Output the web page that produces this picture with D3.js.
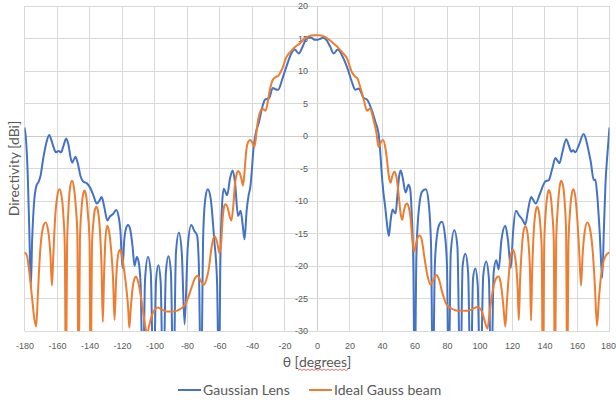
<!DOCTYPE html>
<html>
<head>
<meta charset="utf-8">
<script src="https://cdn.jsdelivr.net/npm/d3@7"></script>
<style>
  body { margin: 0; background: #fff; }
  svg { display: block; font-family: Lato, "Open Sans", sans-serif; }
  .tick text { fill: #595959; }
</style>
</head>
<body>
<div id="chart-area"></div>
<script>
// axis ticks
const xTicks = [-180, -160, -140, -120, -100, -80, -60, -40, -20, 0, 20, 40, 60, 80, 100, 120, 140, 160, 180];
const yTicks = [-30, -25, -20, -15, -10, -5, 0, 5, 10, 15, 20];

const seriesNames = ["Gaussian Lens", "Ideal Gauss beam"];
const seriesColors = ["#4472C4", "#ED7D31"];

// [theta (deg), directivity (dBi)]
const gaussianLens = [
  [-180, 1.3], [-179, -0.8], [-178, -6], [-177, -15], [-176.1, -23.2], [-175.3, -16], [-174.2, -10.5],
  [-172.6, -7.6], [-171.4, -7.1], [-170.2, -6.2], [-168.5, -3.5], [-166.5, -1], [-164.8, 0.15],
  [-163.5, -0.6], [-162, -1.8], [-160.7, -2.5], [-159, -2.3], [-157.5, -2.5], [-156, -1.5],
  [-154.3, -0.4], [-153, -1.3], [-151.5, -3.5], [-150.6, -4.1], [-148.7, -3.2], [-147.2, -4.2],
  [-145.5, -6.2], [-143.9, -7], [-141.5, -7.3], [-139.5, -8], [-137.5, -9.2], [-135.5, -10.4],
  [-133.8, -9.9], [-132.5, -9.4], [-131, -10.8], [-129, -13], [-127.5, -12.4], [-125.5, -12],
  [-123.6, -11.4], [-122, -12.5], [-121, -14.5], [-119.7, -20.3], [-118.6, -16], [-117.5, -14.2],
  [-116.3, -13.7], [-115, -14.3], [-113.5, -17], [-112.3, -20], [-110.9, -18.6], [-109.8, -19.3],
  [-108.5, -23], [-107.2, -40], [-105.8, -22], [-104, -18.6], [-102.3, -21], [-100.6, -40],
  [-99, -22], [-97.6, -19.9], [-96.2, -22.5], [-94.7, -40], [-93, -21], [-91.4, -18.5],
  [-89.9, -21], [-88.4, -40], [-86.8, -18], [-85, -14.9], [-83.2, -18], [-81.5, -29],
  [-79.5, -17], [-77.4, -13.7], [-75.5, -14.6], [-73.8, -15.3], [-72.7, -20], [-71.4, -40],
  [-70, -15], [-68.6, -9.4], [-67.2, -8.2], [-65.5, -9.5], [-63.3, -15.8], [-61.5, -22.5],
  [-60.3, -40], [-59.5, -20], [-58.5, -11], [-57.4, -8.1], [-55.3, -9.1], [-53.5, -6.5],
  [-51.9, -5.3], [-50.5, -7], [-48.6, -12.3], [-47, -11.5], [-45.8, -13.5], [-44.6, -15.9],
  [-43.3, -11.5], [-42, -9], [-41, -7.8], [-40, -5], [-39.2, -2.2], [-37.8, 0.3], [-35.7, 2.15],
  [-33.6, 4.5], [-32, 5.6], [-29.5, 5.8], [-27.2, 7.4], [-25.6, 7.2], [-24, 7.1], [-21.3, 8.8],
  [-18.9, 10.6], [-15.8, 12.7], [-13.7, 13.3], [-11.2, 12.7], [-8.6, 13.9], [-6, 15.1],
  [-3.5, 15.1], [-1.5, 14.8], [0, 14.8], [1.5, 14.9], [3.5, 15.1], [6, 14.7], [8, 13.8],
  [10.3, 12.7], [12.7, 13.3], [15.4, 12.4], [18.5, 10.6], [21.5, 8.3], [23.6, 7.1], [25.6, 7.3],
  [27, 6.8], [28.5, 5.9], [30.8, 5.6], [33.8, 3.9], [35.9, 2.2], [37.9, 0.36], [38.8, -2],
  [39.6, -5], [40.7, -8.3], [42, -11], [43.3, -14], [44.2, -15.4], [45.3, -13], [46.5, -11.3],
  [47.5, -11.7], [48.4, -11.9], [49.5, -9], [50.5, -6.3], [51.5, -5.3], [52.8, -6.5],
  [54.5, -8.7], [56.3, -7.5], [57.3, -8.1], [58.3, -12], [59.3, -20], [60.1, -40], [61.2, -18],
  [62.8, -11], [64.8, -8.5], [67, -8.2], [68.8, -10.5], [70.2, -17], [71.3, -40], [72.5, -20],
  [73.9, -15.2], [75.5, -13.5], [76.9, -13.2], [78.6, -15], [80, -20], [81, -40], [82.3, -18],
  [84.5, -14.5], [86.4, -17], [88.2, -40], [89.6, -20], [91.3, -18.1], [93, -21], [94.6, -40],
  [96, -22], [97.4, -20.4], [98.9, -23], [100.5, -40], [102.3, -21.5], [104.1, -19.3],
  [105.8, -22], [107.2, -40], [108.7, -21], [110.3, -19.1], [111.8, -20.5], [113.5, -16],
  [115.9, -13.8], [117.5, -16], [119.3, -20.3], [120.6, -15], [122.5, -11.5], [124.3, -12.2],
  [126.3, -12.8], [128.2, -13.6], [129.8, -11.5], [131.8, -9.4], [133, -9.8], [134.6, -10.4],
  [137, -9], [140.5, -7], [142.6, -6.8], [144.8, -5], [146.7, -3.4], [148, -3.8], [149.2, -4.2],
  [151, -2.5], [153.4, -0.5], [155, -1.5], [156.5, -2.4], [157.6, -2.2], [159, -2.5], [161, -1.5],
  [164.1, 0.3], [165.8, -0.8], [167.3, -2.5], [168.5, -4], [170.3, -6.8], [171.3, -6.7],
  [172.5, -9.3], [174, -15], [175.5, -21.8], [176.6, -14], [177.5, -7.5], [178.8, -2.5], [180, 1.3]
];

const idealGaussBeam = [
  [-180, -17.9], [-178.5, -18.4], [-177, -21], [-175.5, -24.5], [-174, -28], [-172.8, -29.3],
  [-171.7, -24], [-170.3, -17.5], [-168.8, -14.3], [-167, -13.3], [-165.3, -14.8], [-164, -18.5],
  [-163.1, -23], [-162.2, -18], [-161, -12], [-159.8, -9.2], [-158.5, -8.2], [-157.2, -9.2],
  [-156, -12.5], [-155.2, -17], [-154.5, -40], [-153.8, -17], [-153, -11.5], [-152, -8],
  [-150.8, -6.9], [-149.6, -7.9], [-148.4, -11], [-147.5, -15], [-146.7, -40], [-145.9, -16],
  [-145, -11.5], [-144.1, -9.2], [-143.1, -8.4], [-142, -9.3], [-140.9, -12.3], [-140, -16],
  [-139.3, -40], [-138.5, -17], [-137.5, -13], [-136.7, -11.4], [-135.7, -10.9], [-134.6, -11.8],
  [-133.6, -14.5], [-132.6, -20], [-131.8, -28.6], [-131, -21], [-130.1, -15.5], [-129.1, -13.8],
  [-128, -14.6], [-126.7, -17.5], [-125.5, -22], [-124.6, -28.3], [-123.6, -22], [-122.4, -18.3],
  [-121.3, -17.5], [-120.2, -18.2], [-118.8, -20.5], [-117.3, -23.5], [-116.2, -26.5],
  [-115.5, -29.5], [-114.6, -26.5], [-113.5, -23.5], [-112.3, -21.9], [-111.4, -21.6],
  [-110, -22.5], [-108.5, -24.5], [-107, -27], [-105.5, -29.5], [-104.5, -30.5], [-103.3, -29.2],
  [-101.5, -27.5], [-99.5, -26.6], [-97.8, -26.4], [-95.5, -26.7], [-92.5, -27], [-89.6, -27],
  [-86.5, -26.9], [-84, -26.6], [-82, -26.2], [-79.5, -25], [-77.3, -23.4], [-75.3, -22],
  [-73.5, -21.5], [-71.5, -22.3], [-69.7, -22.9], [-68, -22], [-66.7, -20.6], [-64.8, -17],
  [-63.1, -15.4], [-61.5, -16.3], [-60, -18], [-59, -16.5], [-58, -12.5], [-57, -10.7],
  [-56.4, -10.5], [-55, -11], [-53.6, -12.5], [-52.7, -13], [-51.6, -11], [-50.5, -7.5],
  [-49.4, -5.8], [-48.6, -5.4], [-47.5, -5.7], [-46.4, -6.7], [-45.5, -7.6], [-44.6, -5.5],
  [-43.5, -2.2], [-42.3, -0.9], [-41, -0.6], [-39.7, -1.1], [-38.6, -1.7], [-37.7, -0.5],
  [-36.9, 1.4], [-35.5, 3.3], [-34.3, 4.1], [-33.5, 4.2], [-32.5, 4], [-31.6, 3.9], [-30.5, 5],
  [-29.1, 7], [-27.1, 8.7], [-25.3, 9.1], [-24, 9.2], [-22.5, 9.8], [-21.3, 10.4], [-18.9, 12.1],
  [-15.8, 13.1], [-13, 13.8], [-10.7, 14.2], [-8.5, 14.8], [-6.2, 15.2], [-3.5, 15.45],
  [-1.5, 15.5], [0, 15.5], [1.5, 15.5], [3.5, 15.4], [5.1, 15.2], [7.5, 14.8], [10.3, 14.2],
  [13, 13.6], [15.4, 12.9], [18.5, 11.9], [21.5, 9.8], [23.6, 9.1], [25, 8.8], [26.3, 7.8],
  [28.7, 5.7], [30.8, 3.9], [31.8, 4.1], [32.8, 4.2], [34, 3.3], [34.9, 2.4], [36.5, 0.6],
  [37.9, -1.7], [39.2, -1], [40.6, -0.6], [42, -1.7], [43, -3.5], [44.1, -6], [45.2, -7.2],
  [46.3, -6.2], [47.6, -5.5], [48.8, -6.2], [50, -8.5], [51.5, -12], [52.4, -12.9], [53.5, -11.5],
  [54.5, -10.6], [55.5, -10.4], [56.5, -11], [57.5, -12.5], [58.5, -15.5], [59.7, -17.8],
  [61, -16.5], [62, -15.6], [63.2, -15.3], [64.5, -16], [66, -18.5], [68, -21.5], [69.9, -22.9],
  [71.5, -22.2], [73.4, -21.4], [75, -22], [77, -24], [79.9, -26], [82.5, -26.5], [85, -26.8],
  [88, -26.9], [91.2, -26.9], [94, -26.8], [96.5, -26.5], [98.5, -26.3], [100.5, -26.6],
  [101.8, -27.2], [103, -28.3], [104.9, -29.6], [106.3, -27], [107.7, -24.5], [108.8, -23],
  [110, -22], [111.7, -21.6], [112.8, -22.3], [113.8, -24], [114.8, -26.5], [115.9, -29.3],
  [117, -25], [118, -21.5], [119, -18.8], [120.5, -17.5], [121.6, -18.2], [122.6, -20],
  [123.4, -23], [124.2, -28.3], [125, -22], [126, -17.5], [127, -14.8], [128.2, -13.9],
  [129.3, -14.6], [130.3, -17], [131.1, -21], [131.7, -28.4], [132.4, -21], [133.3, -15],
  [134.3, -12], [135.4, -10.9], [136.5, -11.6], [137.5, -14], [138.3, -17.5], [139, -40],
  [139.8, -17], [140.8, -11.5], [141.7, -9.2], [142.7, -8.3], [143.8, -9.2], [144.8, -12],
  [145.7, -16], [146.4, -40], [147.2, -16], [148.2, -11], [149.2, -8], [150.3, -6.9],
  [151.5, -7.8], [152.5, -10.5], [153.3, -15], [154, -40], [154.7, -17], [155.6, -12],
  [156.6, -9.2], [157.7, -8.2], [158.9, -9.2], [160.1, -12.5], [161.3, -17.5], [162.5, -23],
  [163.4, -18.5], [164.7, -14.8], [166.3, -13.3], [168, -14.3], [169.6, -17.5], [171, -23],
  [172.3, -29.2], [173.5, -25], [174.8, -21.5], [176.4, -19.2], [178, -18.3], [180, -17.9]
];

const W = 616, H = 400;
const plot = { left: 24.5, right: 609.5, top: 6, bottom: 331 };

const svg = d3.select("#chart-area").append("svg")
    .attr("width", W)
    .attr("height", H);

const x = d3.scaleLinear().domain([-180, 180]).range([plot.left, plot.right]);
const y = d3.scaleLinear().domain([-30, 20]).range([plot.bottom, plot.top]);

// Gridlines
const grid = svg.append("g").attr("shape-rendering", "crispEdges");
grid.selectAll(".vgrid").data(xTicks).enter().append("line")
    .attr("x1", d => x(d)).attr("x2", d => x(d))
    .attr("y1", plot.top).attr("y2", plot.bottom)
    .attr("stroke", d => d === 0 ? "#cccccc" : "#d9d9d9");
grid.selectAll(".hgrid").data(yTicks).enter().append("line")
    .attr("x1", plot.left).attr("x2", plot.right)
    .attr("y1", d => y(d)).attr("y2", d => y(d))
    .attr("stroke", d => d === 0 ? "#cccccc" : "#d9d9d9");

// Axes (labels only)
const xAxis = svg.append("g")
    .attr("transform", "translate(0," + (plot.bottom + 9) + ")")
    .call(d3.axisBottom(x).tickValues(xTicks).tickSize(0).tickFormat(d => String(d)));
xAxis.select(".domain").remove();
xAxis.selectAll("text").style("font-size", "9px");
// keep the last label inside the page
xAxis.selectAll(".tick").filter(d => d === 180).select("text")
    .attr("text-anchor", "end").attr("x", 6);

const yAxis = svg.append("g")
    .attr("transform", "translate(" + (x(0) - 6) + ",0)")
    .call(d3.axisLeft(y).tickValues(yTicks).tickSize(0).tickPadding(3).tickFormat(d => String(d)));
yAxis.select(".domain").remove();
yAxis.selectAll("text").style("font-size", "9px");

// Lines
svg.append("clipPath").attr("id", "clip")
  .append("rect")
    .attr("x", plot.left).attr("y", plot.top)
    .attr("width", plot.right - plot.left).attr("height", plot.bottom - plot.top);

const line = d3.line()
    .curve(d3.curveMonotoneX)
    .x(d => x(d[0]))
    .y(d => y(d[1]));

[gaussianLens, idealGaussBeam].forEach((s, i) => {
  svg.append("path")
      .datum(s)
      .attr("clip-path", "url(#clip)")
      .attr("fill", "none")
      .attr("stroke", seriesColors[i])
      .attr("stroke-width", 2)
      .attr("stroke-linejoin", "round")
      .attr("d", line);
});

// Axis titles
svg.append("text")
    .attr("transform", "translate(19," + ((plot.top + plot.bottom) / 2) + ") rotate(-90)")
    .attr("text-anchor", "middle")
    .attr("fill", "#595959")
    .style("font-size", "14px")
    .text("Directivity [dBi]");

svg.append("text")
    .attr("x", x(0))
    .attr("y", 367)
    .attr("text-anchor", "middle")
    .attr("fill", "#595959")
    .style("font-size", "14px")
    .text("θ [degrees]");

// spell-check squiggle under "degrees"
let sq = "M298,370.5";
for (let px = 298, k = 0; px < 348; px += 2, k++) sq += " L" + (px + 2) + "," + (k % 2 ? 370.5 : 369);
svg.append("path").attr("d", sq).attr("fill", "none").attr("stroke", "#e04848").attr("stroke-width", 0.8);

// Legend
const legendX = [178, 309];
seriesNames.forEach((name, i) => {
  const g = svg.append("g").attr("transform", "translate(" + legendX[i] + ",390)");
  g.append("line").attr("x1", 0).attr("x2", 23).attr("y1", 0).attr("y2", 0)
    .attr("stroke", seriesColors[i]).attr("stroke-width", 2);
  g.append("text").attr("x", 25).attr("y", 5)
    .attr("fill", "#595959")
    .style("font-size", "14px")
    .text(name);
});
</script>
</body>
</html>
